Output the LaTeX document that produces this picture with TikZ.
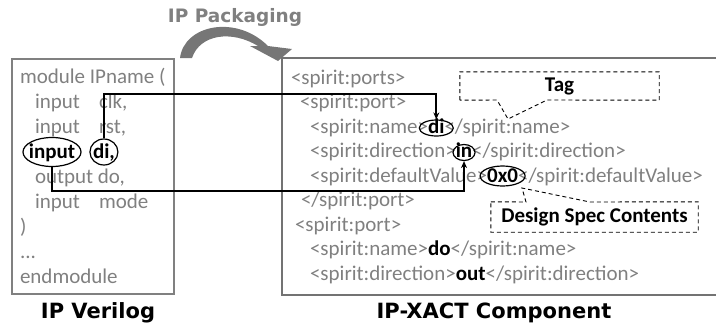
\documentclass[tikz,border=0pt]{standalone}
\usepackage{fontspec}
\setmainfont{Carlito}
\newfontfamily\titlefont{DejaVu Sans}
\usetikzlibrary{arrows.meta,shapes.geometric}
\definecolor{codegray}{RGB}{128,128,128}
\definecolor{arrowgray}{RGB}{118,118,118}

\begin{document}
\begin{tikzpicture}[x=1pt,y=-1pt]
\tikzset{code/.style={anchor=base west, inner sep=0pt, outer sep=0pt, text=codegray, font=\fontsize{21}{24}\selectfont},
  val/.style={code, text=black, font=\fontsize{21}{24}\selectfont\bfseries},
  oval/.style={draw, ellipse, line width=1.2pt, inner sep=0pt},
  link/.style={line width=1.8pt, -{Stealth[length=7pt,width=6pt]}},
  note/.style={line width=0.9pt, dash pattern=on 4pt off 3pt},
  title/.style={anchor=base, font=\titlefont\bfseries\fontsize{21}{24}\selectfont}}
\useasboundingbox (0,0) rectangle (716,325);

% packaging arrow
\node[title, text=codegray, font=\titlefont\bfseries\fontsize{18.5}{22}\selectfont] (pack) at (235,22) {IP Packaging};
\fill[arrowgray] (180,58) .. controls (184,25) and (236,14) .. (268,46) -- (292,49) -- (278,61)
  -- (250,46) -- (258,46) .. controls (232,30) and (200,34) .. (192,58) -- cycle;

% frames
\draw[black!50, line width=1.5pt] (12,59) rectangle (174,294);
\draw[black!55, line width=1.8pt] (716,58) -- (282,58) -- (282,295) -- (716,295);

% verilog side
\node[code] (v1) at (20,83) {module IPname (};
\node[code] (v2) at (35,108) {input};
\node[code] (v2b) at (99,108) {clk,};
\node[code] (v3) at (35,133) {input};
\node[code] (v3b) at (99,133) {rst,};
\node[val, anchor=base] (v4) at (52,158) {input};
\node[val] (v4b) at (93,158) {di,};
\node[code] (v5) at (35,183) {output do,};
\node[code] (v6) at (35,208) {input};
\node[code] (v6b) at (99,208) {mode};
\node[code] (v7) at (20,233) {)};
\node[code] (v8) at (20,258) {...};
\node[code] (v9) at (20,283) {endmodule};
\node[oval, minimum width=58pt, minimum height=29pt] (inL) at ([yshift=6pt]v4.base) {};
\node[oval, minimum width=28pt, minimum height=26pt] (diL) at ([yshift=6pt]v4b.base) {};

% ip-xact side
\node[code] (x1) at (291,84) {<spirit:ports>};
\node[code] (x2) at (300,108.5) {<spirit:port>};
\node[code] (x3) at (310,133) {<spirit:name>};
\node[val] (x3v) at (x3.base east) {di};
\node[code] (x3e) at (x3v.base east) {</spirit:name>};
\node[code] (x4) at (310,157.5) {<spirit:direction>};
\node[val] (x4v) at (x4.base east) {in};
\node[code] (x4e) at (x4v.base east) {</spirit:direction>};
\node[code] (x5) at (310,182) {<spirit:defaultValue>};
\node[val] (x5v) at (x5.base east) {0x0};
\node[code] (x5e) at (x5v.base east) {</spirit:defaultValue>};
\node[code] (x6) at (301,206.5) {</spirit:port>};
\node[code] (x7) at (295,231) {<spirit:port>};
\node[code] (x8) at (310,255.5) {<spirit:name>};
\node[val] (x8v) at (x8.base east) {do};
\node[code] (x8e) at (x8v.base east) {</spirit:name>};
\node[code] (x9) at (310,280) {<spirit:direction>};
\node[val] (x9v) at (x9.base east) {out};
\node[code] (x9e) at (x9v.base east) {</spirit:direction>};
\node[oval, minimum width=34pt, minimum height=16pt] (diR) at ([yshift=5pt]x3v.base) {};
\node[oval, minimum width=22pt, minimum height=16pt] (inR) at ([yshift=5pt]x4v.base) {};
\node[oval, minimum width=45pt, minimum height=20pt] (zeroR) at ([yshift=6pt]x5v.base) {};

% mapping lines
\coordinate (hi) at (0,94);
\coordinate (lo) at (0,191);
\draw[link] (diL.north) |- (hi -| diR.north) -- (diR.north);
\draw[link] (inL.south) |- (lo -| inR.south) -- (inR.south);

% callouts
\node[font=\fontsize{21}{24}\selectfont\bfseries, minimum width=199pt, minimum height=28pt] (tag) at (559.5,86) {Tag};
\coordinate (tagtip) at (508,119);
\draw[note] (tag.south west) -- (tag.north west) -- (tag.north east) -- (tag.south east)
  -- (547,100) -- (tagtip) -- (497,100) -- cycle;
\node[font=\fontsize{21}{24}\selectfont\bfseries, minimum width=207pt, minimum height=30pt] (spec) at (594.5,217) {Design Spec Contents};
\coordinate (spectip) at (522,188);
\draw[note] (spec.north west) -- (526,202) -- (spectip) -- (590,202) -- (spec.north east)
  -- (spec.south east) -- (spec.south west) -- cycle;

% titles
\node[title] (vtitle) at (98,318) {IP Verilog};
\node[title] (xtitle) at (494,318) {IP-XACT Component};
\end{tikzpicture}
\end{document}
